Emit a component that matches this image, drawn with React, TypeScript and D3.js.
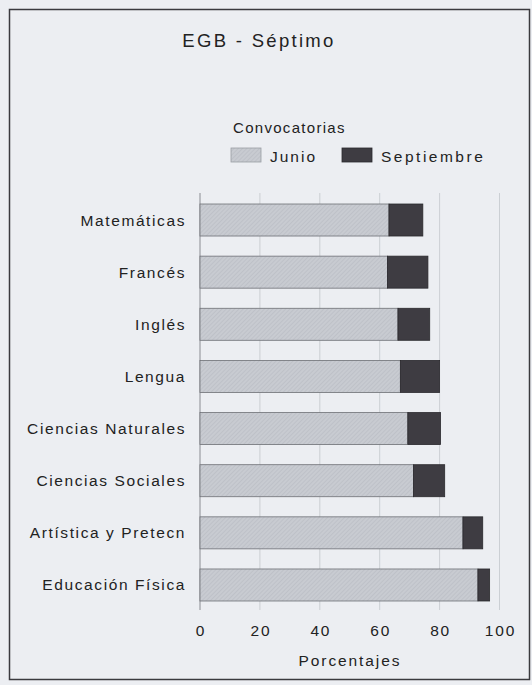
import React, { useEffect, useRef } from "react";
import * as d3 from "d3";

const categories = [
  "Matemáticas",
  "Francés",
  "Inglés",
  "Lengua",
  "Ciencias Naturales",
  "Ciencias Sociales",
  "Artística y Pretecn",
  "Educación Física",
];
const junio = [63.1, 62.6, 66.1, 66.9, 69.4, 71.3, 87.8, 92.8];
const septiembre = [11.3, 13.5, 10.6, 13.1, 10.9, 10.4, 6.6, 3.9];
const xTicks = [0, 20, 40, 60, 80, 100];
const seriesNames = ["Junio", "Septiembre"];

const FONT = "'Liberation Sans', Arial, Helvetica, sans-serif";

const App = () => {
  const svgRef = useRef<SVGSVGElement>(null);

  useEffect(() => {
    const root = d3.select(svgRef.current);
    root.selectAll("*").remove();

    const width = 532;
    const height = 685;

    const defs = root.append("defs");
    const pat = defs
      .append("pattern")
      .attr("id", "hatch")
      .attr("patternUnits", "userSpaceOnUse")
      .attr("width", 3)
      .attr("height", 3)
      .attr("patternTransform", "rotate(45)");
    pat.append("rect").attr("width", 3).attr("height", 3).attr("fill", "#c8cbd1");
    pat
      .append("line")
      .attr("x1", 0)
      .attr("y1", 0)
      .attr("x2", 0)
      .attr("y2", 3)
      .attr("stroke", "#b5b8bf")
      .attr("stroke-width", 1);

    root.append("rect").attr("width", width).attr("height", height).attr("fill", "#eceef2");

    // frame
    root
      .append("rect")
      .attr("x", 9.5)
      .attr("y", 9.5)
      .attr("width", 520)
      .attr("height", 670)
      .attr("fill", "none")
      .attr("stroke", "#3a3a3e")
      .attr("stroke-width", 1.5);

    const x = d3.scaleLinear().domain([0, 100]).range([200, 499.5]);
    const y = d3
      .scaleBand()
      .domain(categories)
      .range([193, 612])
      .paddingInner(0.386)
      .paddingOuter(0.211);

    // title
    root
      .append("text")
      .attr("x", 259)
      .attr("y", 47)
      .attr("text-anchor", "middle")
      .attr("font-family", FONT)
      .attr("font-size", 18.5)
      .attr("letter-spacing", 2.3)
      .attr("fill", "#222")
      .text("EGB - Séptimo");

    // legend
    const legend = root.append("g").attr("font-family", FONT).attr("fill", "#222");
    legend
      .append("text")
      .attr("x", 233)
      .attr("y", 133)
      .attr("font-size", 15)
      .attr("letter-spacing", 1.3)
      .text("Convocatorias");
    const legX = [231, 342];
    const legLs = [2.0, 2.5];
    seriesNames.forEach((name, i) => {
      legend
        .append("rect")
        .attr("x", legX[i])
        .attr("y", 148)
        .attr("width", 30)
        .attr("height", 14)
        .attr("fill", i === 0 ? "url(#hatch)" : "#3e3c42")
        .attr("stroke", i === 0 ? "#9a9da4" : "#2a292d")
        .attr("stroke-width", 0.8);
      legend
        .append("text")
        .attr("x", legX[i] + 39)
        .attr("y", 162)
        .attr("font-size", 15.5)
        .attr("letter-spacing", legLs[i])
        .text(name);
    });

    // grid lines
    const g = root.append("g");
    g.selectAll(".grid")
      .data(xTicks.slice(1))
      .enter()
      .append("line")
      .attr("x1", (d) => x(d))
      .attr("x2", (d) => x(d))
      .attr("y1", 193)
      .attr("y2", 610)
      .attr("stroke", "#c3c6cc")
      .attr("stroke-width", 0.8);
    g.append("line")
      .attr("x1", x(0))
      .attr("x2", x(0))
      .attr("y1", 193)
      .attr("y2", 610)
      .attr("stroke", "#8a8c92")
      .attr("stroke-width", 1);

    // bars
    const rows = categories.map((c, i) => ({ c, j: junio[i], s: septiembre[i] }));
    const bars = g.selectAll(".bar").data(rows).enter().append("g");
    bars
      .append("rect")
      .attr("x", x(0))
      .attr("y", (d) => y(d.c)!)
      .attr("width", (d) => x(d.j) - x(0))
      .attr("height", y.bandwidth())
      .attr("fill", "url(#hatch)")
      .attr("stroke", "#6e7076")
      .attr("stroke-width", 0.8);
    bars
      .append("rect")
      .attr("x", (d) => x(d.j))
      .attr("y", (d) => y(d.c)!)
      .attr("width", (d) => x(d.j + d.s) - x(d.j))
      .attr("height", y.bandwidth())
      .attr("fill", "#3e3c42")
      .attr("stroke", "#2a292d")
      .attr("stroke-width", 0.8);

    // category labels
    g.selectAll(".lab")
      .data(categories)
      .enter()
      .append("text")
      .attr("x", 186)
      .attr("y", (d) => y(d)! + y.bandwidth() / 2 + 5.5)
      .attr("text-anchor", "end")
      .attr("font-family", FONT)
      .attr("font-size", 15.5)
      .attr("letter-spacing", 1.6)
      .attr("fill", "#222")
      .text((d) => d);

    // x tick labels
    g.selectAll(".tick")
      .data(xTicks)
      .enter()
      .append("text")
      .attr("x", (d) => x(d) + 1)
      .attr("y", 636)
      .attr("text-anchor", "middle")
      .attr("font-family", FONT)
      .attr("font-size", 15.5)
      .attr("letter-spacing", 1.8)
      .attr("fill", "#222")
      .text((d) => d);

    g.append("text")
      .attr("x", 350)
      .attr("y", 666)
      .attr("text-anchor", "middle")
      .attr("font-family", FONT)
      .attr("font-size", 15.5)
      .attr("letter-spacing", 1.9)
      .attr("fill", "#222")
      .text("Porcentajes");
  }, []);

  return (
    <svg
      ref={svgRef}
      width={532}
      height={685}
      style={{ position: "absolute", left: 0, top: 0, display: "block" }}
    />
  );
};

export default App;
